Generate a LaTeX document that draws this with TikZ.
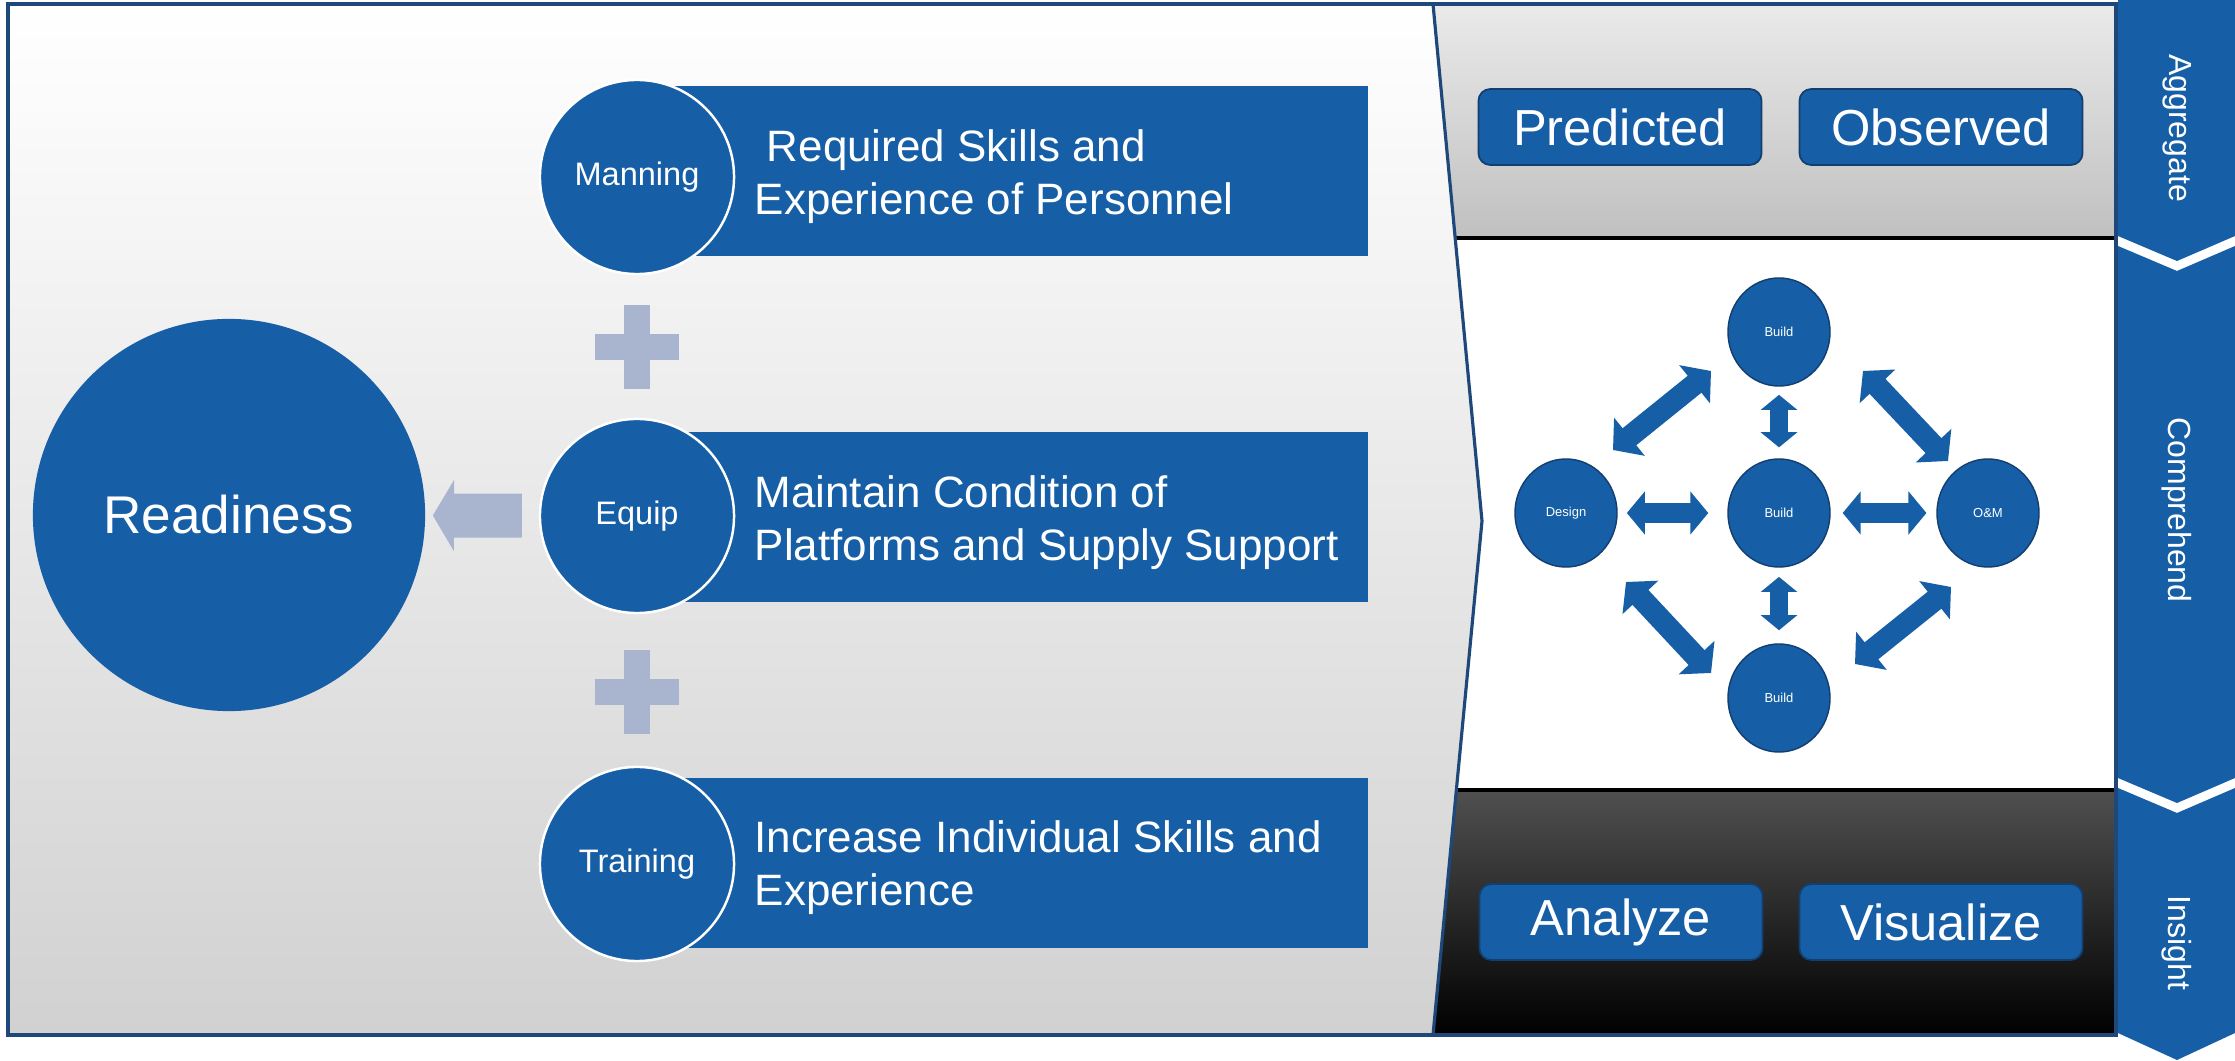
\documentclass[tikz,border=0pt]{standalone}
\usepackage{fontspec}
\setmainfont{Liberation Sans}
\usetikzlibrary{arrows.meta,calc,shapes.geometric}
\definecolor{mblue}{RGB}{22,94,166}
\definecolor{frameblue}{RGB}{30,72,122}
\definecolor{pale}{RGB}{169,181,207}
\definecolor{edgeblue}{RGB}{18,62,112}
\definecolor{lpmid}{RGB}{246,246,246}
\definecolor{lpbot}{RGB}{209,209,209}
\definecolor{tptop}{RGB}{234,234,234}
\definecolor{tpbot}{RGB}{192,192,192}
\definecolor{bptop}{RGB}{80,80,80}
\begin{document}
\begin{tikzpicture}[x=0.01cm,y=-0.01cm,
  bigcirc/.style={circle, fill=mblue, minimum size=3.92cm, inner sep=0pt, text=white, font=\fontsize{15.1}{18}\selectfont},
  tagcirc/.style={circle, fill=mblue, draw=white, line width=0.7pt, minimum size=1.94cm, inner sep=0pt, text=white, font=\fontsize{9.25}{11}\selectfont},
  barbox/.style={fill=mblue, minimum width=6.98cm, minimum height=1.69cm, inner sep=0pt},
  bartext/.style={text=white, anchor=west, align=left, inner sep=0pt, font=\fontsize{12.5}{15.1}\selectfont},
  btn/.style={rounded corners=3.4pt, fill=mblue, draw=edgeblue, line width=0.5pt, minimum width=2.83cm, minimum height=0.76cm, inner sep=0pt, text=white, font=\fontsize{14.4}{17}\selectfont},
  net/.style={ellipse, fill=mblue, draw=edgeblue, line width=0.4pt, minimum width=1.02cm, minimum height=1.08cm, inner sep=0pt, text=white, font=\fontsize{3.7}{4.5}\selectfont},
  hdbl/.style={draw=mblue, line width=5.7pt, {Triangle[length=5.1pt,width=12pt]}-{Triangle[length=5.1pt,width=12pt]}},
  vdbl/.style={draw=mblue, line width=5.1pt, {Triangle[length=4.3pt,width=10.2pt]}-{Triangle[length=4.3pt,width=10.2pt]}},
  ddbl/.style={draw=mblue, line width=6.2pt, {Triangle[length=6pt,width=13.6pt]}-{Triangle[length=6pt,width=13.6pt]}},
  striptext/.style={text=white, rotate=-90, font=\fontsize{9.1}{11}\selectfont}
]
\useasboundingbox (0,0) rectangle (2235,1061);
\fill[white] (0,0) rectangle (2235,1061);

% left panel
\shade[top color=white, middle color=lpmid, bottom color=lpbot]
  (8,4) -- (1433,4) -- (1482,521) -- (1433,1035) -- (8,1035) -- cycle;

% right panels
\shade[top color=tptop, bottom color=tpbot] (1433,4) -- (2116,4) -- (2116,238) -- (1455,238) -- cycle;
\fill[white] (1455,238) -- (2116,238) -- (2116,790) -- (1456,790) -- (1482,521) -- cycle;
\shade[top color=bptop, bottom color=black] (1456,790) -- (2116,790) -- (2116,1035) -- (1433,1035) -- cycle;
\draw[black, line width=0.9pt] (1455,238) -- (2116,238) (1456,790) -- (2116,790) (2116,4) -- (2116,1035);
\draw[frameblue, line width=0.9pt] (1433,4) -- (1482,521) -- (1433,1035);
\draw[frameblue, line width=0.9pt] (8,4) rectangle (2116,1035);

% chevron strip
\fill[mblue] (2118,0) -- (2235,0) -- (2235,236) -- (2177,261) -- (2118,236) -- cycle;
\fill[mblue] (2118,246) -- (2177,271) -- (2235,246) -- (2235,778) -- (2177,803) -- (2118,778) -- cycle;
\fill[mblue] (2118,788) -- (2177,813) -- (2235,788) -- (2235,1033) -- (2177,1060) -- (2118,1033) -- cycle;
\node[striptext] (sagg) at (2177,128) {Aggregate};
\node[striptext] (scomp) at (2177,510) {Comprehend};
\node[striptext] (sins) at (2177,943) {Insight};

% left content
\node[bigcirc] (ready) at (229,515) {Readiness};
\node[barbox] (b1) at (1019,171) {};
\node[barbox] (b2) at (1019,517) {};
\node[barbox] (b3) at (1019,863) {};
\node[tagcirc] (man) at (637,177) {Manning};
\node[tagcirc] (equ) at (637,516) {Equip};
\node[tagcirc] (tra) at (637,864) {Training};
\node[bartext] (t1) at (754,177) {\ Required Skills and\\Experience of Personnel};
\node[bartext] (t2) at (754,523) {Maintain Condition of\\Platforms and Supply Support};
\node[bartext] (t3) at (754,868) {Increase Individual Skills and\\Experience};

\coordinate (p1) at (637,347);
\coordinate (p2) at (637,692);
\foreach \p in {p1,p2} {
  \fill[pale] ($(\p)+(-42,-13)$) rectangle ($(\p)+(42,13)$);
  \fill[pale] ($(\p)+(-13,-42)$) rectangle ($(\p)+(13,42)$);
}
\draw[pale, line width=12.5pt, -{Triangle[length=6pt,width=20pt]}, shorten <=4.8pt, shorten >=2pt] (equ) -- (ready);

% buttons
\node[btn] (pred) at (1620,127) {Predicted};
\node[btn] (obs) at (1941,127) {Observed};
\node[btn] (ana) at (1621,922) {Analyze};
\node[btn] (vis) at (1941,922) {Visualize};

% network
\node[net] (nt) at (1779,332) {Build};
\node[net] (nm) at (1779,513) {Build};
\node[net] (nb) at (1779,698) {Build};
\node[net] (nd) at (1566,513) {Design};
\node[net] (no) at (1988,513) {O\&M};
\draw[hdbl, shorten <=2.6pt, shorten >=5.4pt] (nd) -- (nm);
\draw[hdbl, shorten <=3.4pt, shorten >=2.8pt] (nm) -- (no);
\draw[vdbl, shorten <=2.3pt, shorten >=3.1pt] (nt) -- (nm);
\draw[vdbl, shorten <=2.6pt, shorten >=3.7pt] (nm) -- (nb);
\draw[ddbl] ($(nd)+(47,-63)$) -- ($(nt)+(-68,39)$);
\draw[ddbl] ($(nt)+(84,39)$) -- ($(no)+(-40,-52)$);
\draw[ddbl] ($(nd)+(60,69)$) -- ($(nb)+(-68,-25)$);
\draw[ddbl] ($(nb)+(76,-34)$) -- ($(no)+(-37,74)$);
\end{tikzpicture}
\end{document}
